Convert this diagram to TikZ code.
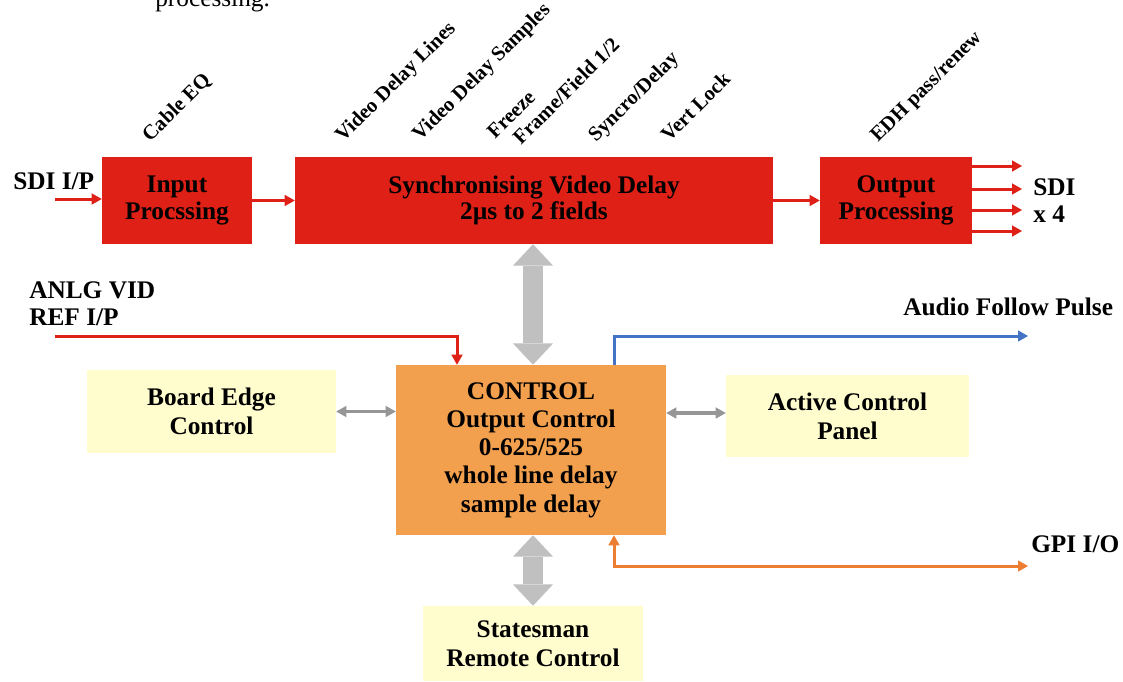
\documentclass[tikz,border=0pt]{standalone}
\usepackage{fontspec}
\setmainfont{Liberation Serif}
\usetikzlibrary{arrows.meta}
\newdimen\pxu \pxu=0.75pt
\definecolor{boxred}{RGB}{222,32,22}
\definecolor{boxorange}{RGB}{242,160,78}
\definecolor{boxyel}{RGB}{255,253,205}
\definecolor{biggray}{RGB}{192,192,192}
\definecolor{smallgray}{RGB}{150,150,150}
\definecolor{lineblue}{RGB}{68,114,196}
\definecolor{lineorange}{RGB}{237,125,49}
\begin{document}
\begin{tikzpicture}[x=0.75pt,y=-0.75pt,
  redbox/.style={fill=boxred, draw=none, text=black, align=center, inner sep=0pt,
    minimum height=87\pxu, font=\bfseries\fontsize{19}{20}\selectfont},
  ctrlbox/.style={fill=boxorange, draw=none, text=black, align=center, inner sep=0pt,
    font=\bfseries\fontsize{19}{21.2}\selectfont},
  yelbox/.style={fill=boxyel, draw=none, text=black, align=center, inner sep=0pt,
    font=\bfseries\fontsize{19}{21.5}\selectfont},
  lbl/.style={font=\bfseries\fontsize{19}{20.2}\selectfont, anchor=base west, inner sep=0pt, align=left},
  rotlbl/.style={font=\bfseries\fontsize{15.5}{17}\selectfont, anchor=base west, inner sep=0pt, rotate=45},
  redarr/.style={draw=boxred, line width=2.25pt, -{Triangle[length=7.5pt,width=8.5pt,line width=0pt]}},
  bluearr/.style={draw=lineblue, line width=2.25pt, -{Triangle[length=7.5pt,width=8.5pt,line width=0pt]}},
  orarr/.style={draw=lineorange, line width=2.25pt, {Triangle[length=7.5pt,width=8.5pt,line width=0pt]}-{Triangle[length=7.5pt,width=8.5pt,line width=0pt]}},
  grayarr/.style={draw=smallgray, line width=2.5pt, {Triangle[length=7.5pt,width=8.5pt,line width=0pt]}-{Triangle[length=7.5pt,width=8.5pt,line width=0pt]}},
  bigarr/.style={draw=biggray, line width=15pt, {Triangle[length=16pt,width=30pt,line width=0pt]}-{Triangle[length=16pt,width=30pt,line width=0pt]}}
]
\clip (0,0) rectangle (1123,681);
\fill[white] (0,0) rectangle (1123,681);

% clipped text from previous page
\node[anchor=base west, inner sep=0pt, font=\fontsize{19}{20}\selectfont] (prev) at (155,7) {processing.};

% boxes
\node[redbox, minimum width=150\pxu] (inp) at (177,200.5) {Input\\Procssing};
\node[redbox, minimum width=478\pxu] (sync) at (534,200.5) {Synchronising Video Delay\\2µs to 2 fields};
\node[redbox, minimum width=152\pxu] (outp) at (896,200.5) {Output\\Processing};
\node[ctrlbox, minimum width=270\pxu, minimum height=170\pxu] (ctrl) at (531,450) {CONTROL\\Output Control\\0-625/525\\whole line delay\\sample delay};
\node[yelbox, minimum width=249\pxu, minimum height=83\pxu] (board) at (211.5,411.5) {Board Edge\\Control};
\node[yelbox, minimum width=243\pxu, minimum height=82\pxu] (act) at (847.5,416) {Active Control\\Panel};
\node[yelbox, minimum width=220\pxu, minimum height=75\pxu] (stm) at (533,643.5) {Statesman\\Remote Control};

% rotated labels
\node[rotlbl] (l1) at (150,143) {Cable EQ};
\node[rotlbl] (l2) at (343,143) {Video Delay Lines};
\node[rotlbl] (l3) at (420,142) {Video Delay Samples};
\node[rotlbl] (l4) at (495,140) {Freeze};
\node[rotlbl] (l5) at (521,146) {Frame/Field 1/2};
\node[rotlbl] (l6) at (596,143) {Syncro/Delay};
\node[rotlbl] (l7) at (669,143) {Vert Lock};
\node[rotlbl] (l8) at (878,143) {EDH pass/renew};

% plain labels (base = last line's baseline)
\node[lbl] (sdiin) at (13,190) {SDI I/P};
\node[lbl] (sdiout) at (1033,222) {SDI\\x 4};
\node[lbl] (anlg) at (29,325) {ANLG VID\\REF I/P};
\node[lbl] (afp) at (903,315) {Audio Follow Pulse};
\node[lbl] (gpi) at (1031,552) {GPI I/O};

% coordinates for free ends
\coordinate (inS) at (55,199);
\coordinate (o1) at (1022,166);
\coordinate (o2) at (1022,189);
\coordinate (o3) at (1022,210);
\coordinate (o4) at (1022,231);
\coordinate (anS) at (55,336);
\coordinate (anX) at (457,0);
\coordinate (tapX) at (614,0);
\coordinate (afpE) at (1028,336);
\coordinate (gpiE) at (1028,566);

% red signal path
\draw[redarr] (inS) -- (inS -| inp.west);
\draw[redarr] (inp.east) -- (sync.west);
\draw[redarr] (sync.east) -- (outp.west);
\foreach \o in {o1,o2,o3,o4} \draw[redarr] (outp.east |- \o) -- (\o);
\draw[redarr] (anS) -| (anX |- ctrl.north);

% blue and orange
\draw[bluearr] (tapX |- ctrl.north) |- (afpE);
\draw[orarr] (tapX |- ctrl.south) |- (gpiE);

% gray arrows
\draw[bigarr] (sync.south -| 533,0) -- (ctrl.north -| 533,0);
\draw[bigarr] (ctrl.south -| 533,0) -- (stm.north -| 533,0);
\draw[grayarr] (board.east) -- (board.east -| ctrl.west);
\draw[grayarr] (ctrl.east |- 0,413) -- (act.west |- 0,413);
\end{tikzpicture}
\end{document}
